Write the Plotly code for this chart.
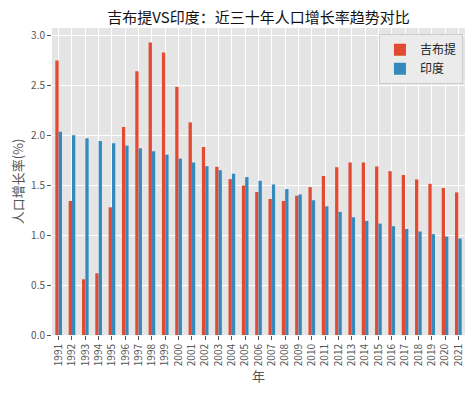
import plotly.graph_objects as go

years = [str(y) for y in range(1991, 2022)]
djibouti = [2.746, 1.340, 0.557, 0.617, 1.277, 2.080, 2.637, 2.925, 2.826, 2.481,
            2.126, 1.881, 1.682, 1.559, 1.496, 1.430, 1.360, 1.340, 1.393, 1.479,
            1.589, 1.678, 1.725, 1.725, 1.685, 1.638, 1.599, 1.556, 1.512, 1.469, 1.426]
india = [2.033, 1.997, 1.967, 1.940, 1.917, 1.894, 1.867, 1.837, 1.804, 1.764,
         1.725, 1.688, 1.648, 1.612, 1.579, 1.542, 1.506, 1.459, 1.406, 1.347,
         1.287, 1.231, 1.177, 1.141, 1.114, 1.088, 1.061, 1.035, 1.008, 0.985, 0.965]

FONT = "Noto Sans CJK SC, DejaVu Sans, sans-serif"

fig = go.Figure()
fig.add_trace(go.Bar(x=years, y=djibouti, name="吉布提", marker_color="#E24A33", marker_line_width=0))
fig.add_trace(go.Bar(x=years, y=india, name="印度", marker_color="#348ABD", marker_line_width=0))

# page body adds an 8px offset, so the figure is sized 466x386 and margins compensate
fig.update_layout(
    width=466, height=386,
    margin=dict(l=44, r=9, t=20, b=59, autoexpand=False),
    paper_bgcolor="white", plot_bgcolor="#E5E5E5",
    barmode="group", bargap=0.5, bargroupgap=0,
    font=dict(family=FONT, color="#555555", size=10),
    title=dict(text="吉布提VS印度：近三十年人口增长率趋势对比", x=0.5, xanchor="center",
               xref="paper", y=1 - 4.5 / 386, yanchor="top",
               font=dict(size=15, color="#111111", family=FONT)),
    legend=dict(x=0.995, y=0.98, xanchor="right", yanchor="top",
                bgcolor="rgba(235,235,235,0.9)", bordercolor="#CCCCCC", borderwidth=1,
                font=dict(size=12, color="#222222"), itemwidth=30, tracegroupgap=0),
    showlegend=True,
)
fig.update_xaxes(
    type="category", showgrid=True, gridcolor="white", gridwidth=1,
    ticks="outside", ticklen=4, tickcolor="#555555", tickangle=-90,
    tickfont=dict(size=10, color="#555555"),
    title=dict(text="年", font=dict(size=13, color="#555555"), standoff=4),
    range=[-0.5, 30.5], zeroline=False, automargin=False,
)
fig.update_yaxes(
    range=[0, 3.07], dtick=0.5, tickformat=".1f", showgrid=True, gridcolor="white", gridwidth=1,
    ticks="outside", ticklen=4, tickcolor="#555555",
    tickfont=dict(size=10, color="#555555"),
    title=dict(text="人口增长率(%)", font=dict(size=13, color="#555555"), standoff=6),
    zeroline=False, automargin=False,
)

fig.write_html("out.html")
